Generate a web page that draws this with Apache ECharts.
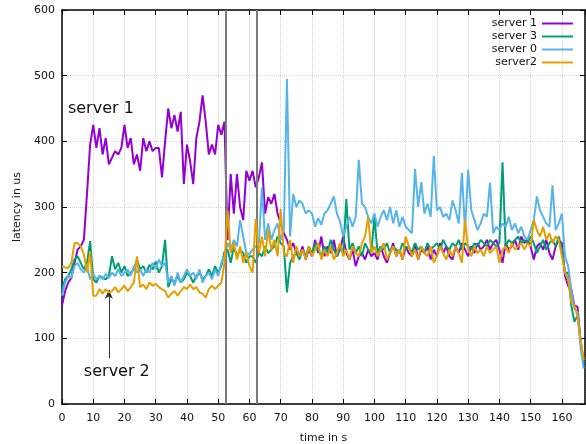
<!DOCTYPE html>
<html>
<head>
<meta charset="utf-8">
<script src="https://cdn.jsdelivr.net/npm/echarts@6/dist/echarts.min.js"></script>
<style>
html, body { margin: 0; padding: 0; background: #fff; }
#chart { width: 586px; height: 444px; }
</style>
</head>
<body>
<div id="chart"></div>
<script>
// latency samples, one per second (t = 0 .. 167 s)
const server1 = [
  150, 172, 185, 192, 215, 235, 240, 250, 320, 395,
  425, 390, 420, 380, 405, 365, 375, 385, 380, 390,
  425, 390, 405, 365, 380, 355, 405, 385, 400, 385,
  390, 390, 345, 400, 450, 420, 440, 415, 445, 335,
  395, 370, 335, 405, 430, 470, 430, 380, 395, 380,
  425, 410, 430, 250, 350, 290, 350, 300, 280, 355,
  340, 355, 330, 345, 368, 290, 315, 305, 320, 290,
  275, 260, 250, 235, 245, 230, 225, 240, 220, 235,
  225, 250, 230, 255, 225, 240, 230, 250, 225, 235,
  255, 230, 220, 235, 210, 225, 230, 220, 235, 225,
  230, 220, 240, 225, 215, 230, 245, 225, 235, 220,
  240, 230, 225, 245, 220, 235, 230, 240, 220, 235,
  225, 245, 230, 240, 225, 220, 240, 230, 245, 235,
  225, 240, 230, 245, 235, 240, 250, 235, 245, 250,
  235, 215, 245, 235, 240, 250, 235, 255, 245, 250,
  240, 220, 240, 245, 235, 250, 230, 220, 240, 250,
  245, 195, 180, 175, 150, 148, 95, 60
];
const server3 = [
  175, 190, 195, 205, 220, 225, 215, 205, 215, 248,
  190, 185, 195, 192, 190, 195, 225, 205, 215, 200,
  210, 195, 200, 205, 220, 205, 210, 200, 212, 205,
  217, 200, 210, 250, 178, 190, 185, 195, 185, 190,
  200, 195, 185, 195, 200, 190, 195, 205, 195, 210,
  200, 210, 232, 235, 215, 240, 225, 235, 230, 215,
  225, 225, 215, 230, 225, 240, 230, 235, 240, 255,
  245, 240, 170, 215, 225, 230, 220, 235, 225, 240,
  230, 245, 235, 225, 240, 230, 250, 235, 225, 240,
  230, 312, 235, 245, 230, 240, 225, 245, 235, 230,
  285, 230, 240, 235, 245, 230, 240, 235, 230, 245,
  235, 240, 230, 245, 235, 240, 230, 245, 235, 240,
  245, 235, 250, 240, 235, 245, 240, 250, 235, 245,
  240, 235, 245, 240, 250, 245, 240, 250, 245, 240,
  245, 368, 240, 250, 245, 250, 255, 245, 250, 245,
  255, 245, 230, 240, 250, 235, 245, 250, 240, 255,
  235, 200, 200, 150, 125, 135, 95, 62
];
const server0 = [
  165, 185, 195, 192, 210, 215, 205, 200, 210, 190,
  198, 190, 195, 190, 198, 192, 200, 195, 205, 195,
  200, 205, 195, 210, 200, 205, 195, 205, 200, 215,
  205, 220, 210, 215, 185, 195, 180, 200, 185, 195,
  205, 195, 200, 190, 205, 185, 195, 200, 190, 205,
  195, 215, 225, 245, 235, 250, 240, 280, 255, 230,
  228, 235, 240, 245, 330, 250, 275, 250, 265, 275,
  250, 265, 495, 255, 320, 300, 310, 305, 290, 295,
  290, 270, 283, 273, 290, 295, 305, 316, 290, 278,
  255, 270, 285, 270, 285, 372, 305, 300, 285, 275,
  290, 270, 285, 295, 280, 300, 275, 295, 270, 285,
  270, 265, 260, 358, 300, 338, 290, 305, 285, 378,
  295, 300, 285, 290, 280, 310, 295, 275, 352, 265,
  357, 295, 280, 265, 275, 290, 285, 337, 260, 270,
  265, 275, 270, 285, 265, 275, 260, 270, 255, 250,
  265, 280, 316, 295, 285, 275, 270, 333, 265, 275,
  290, 225, 210, 175, 145, 140, 85, 54
];
const server2 = [
  210, 208, 207, 215, 245, 245, 240, 228, 200, 232,
  165, 165, 175, 168, 175, 170, 172, 178, 170, 175,
  180, 172, 178, 185, 225, 178, 182, 175, 185, 180,
  183, 178, 175, 172, 162, 168, 172, 165, 172, 178,
  175, 182, 175, 178, 170, 168, 162, 175, 180, 175,
  180, 185, 215, 295, 230, 245, 220, 240, 215, 230,
  210, 200, 282, 230, 255, 225, 265, 235, 250, 225,
  297, 230, 225, 250, 215, 240, 225, 235, 220, 240,
  225, 235, 245, 220, 235, 225, 240, 220, 230, 245,
  225, 235, 220, 240, 230, 225, 245, 255, 285, 230,
  240, 225, 235, 245, 220, 230, 240, 225, 235, 220,
  255, 240, 225, 235, 220, 240, 230, 225, 240, 215,
  225, 240, 230, 220, 235, 225, 240, 230, 215, 280,
  235, 225, 240, 230, 235, 225, 240, 230, 235, 240,
  215, 235, 240, 230, 245, 235, 240, 245, 235, 245,
  240, 280, 265, 255, 270, 250, 260, 245, 255, 250,
  225, 200, 190, 155, 150, 133, 98, 67
];
const times = server1.map((_, i) => i);

const seriesNames = ['server 1', 'server 3', 'server 0', ' server2'];
const seriesColors = ['#9400d3', '#009e73', '#56b4e9', '#e69f00'];
const seriesValues = [server1, server3, server0, server2];

// vertical markers and annotations (data coordinates)
const markerTimes = [52.5, 62.4];
const noteTexts = ['server 1', 'server 2'];
const noteCoords = [[1.9, 450], [7, 49]];
const arrowFrom = [15, 70];
const arrowTo = [15, 174];

const font = 'DejaVu Sans';
const textColor = '#111';
const gridColor = '#d4d4d4';

const chart = echarts.init(document.getElementById('chart'));

const series = seriesNames.map((name, k) => ({
    name: name,
    type: 'line',
    symbol: 'none',
    showSymbol: false,
    data: seriesValues[k].map((v, i) => [times[i], v]),
    lineStyle: { width: 2, color: seriesColors[k] },
    itemStyle: { color: seriesColors[k] },
    z: 2 + k
}));

series[0].markLine = {
    silent: true,
    symbol: ['none', 'none'],
    label: { show: false },
    lineStyle: { color: '#7a7a7a', width: 2, type: 'solid' },
    data: markerTimes.map(t => ({ xAxis: t }))
};
series[0].markPoint = {
    silent: true,
    symbol: 'circle',
    symbolSize: 0,
    label: {
        show: true,
        position: 'right',
        distance: 0,
        formatter: '{b}',
        fontSize: 16,
        fontFamily: font,
        color: textColor
    },
    data: noteTexts.map((t, i) => ({ name: t, coord: noteCoords[i] }))
};
series[1].markLine = {
    silent: true,
    symbol: ['none', 'arrow'],
    symbolSize: [6, 9],
    label: { show: false },
    lineStyle: { color: '#333', width: 1, type: 'solid' },
    data: [[{ coord: arrowFrom }, { coord: arrowTo }]]
};

const option = {
    animation: false,
    backgroundColor: '#fff',
    grid: { left: 62, right: 1, top: 10, bottom: 40, outerBoundsMode: 'none', containLabel: false },
    legend: {
        data: seriesNames,
        orient: 'vertical',
        align: 'right',
        right: 13,
        top: 18,
        padding: 0,
        itemGap: 2,
        itemWidth: 31,
        itemHeight: 2,
        icon: 'rect',
        selectedMode: false,
        textStyle: { fontSize: 11, fontFamily: font, color: textColor }
    },
    xAxis: [{
        type: 'value',
        min: 0,
        max: 167.4,
        interval: 10,
        name: 'time in s',
        nameLocation: 'middle',
        nameGap: 29,
        nameTextStyle: { fontSize: 11, fontFamily: font, color: textColor },
        axisLine: { onZero: false, lineStyle: { color: '#000', width: 1.5 } },
        axisTick: { inside: true, length: 5, lineStyle: { color: '#000' } },
        axisLabel: { showMaxLabel: false, margin: 9, fontSize: 11, fontFamily: font, color: textColor },
        splitLine: { show: true, lineStyle: { type: 'dotted', color: gridColor } }
    }, {
        type: 'value',
        position: 'top',
        min: 0,
        max: 167.4,
        interval: 10,
        axisLine: { onZero: false, lineStyle: { color: '#000', width: 1.5 } },
        axisTick: { inside: true, length: 5, lineStyle: { color: '#000' } },
        axisLabel: { show: false },
        splitLine: { show: false }
    }],
    yAxis: [{
        type: 'value',
        min: 0,
        max: 600,
        interval: 100,
        name: 'latency in us',
        nameLocation: 'middle',
        nameGap: 38,
        nameTextStyle: { fontSize: 11, fontFamily: font, color: textColor },
        axisLine: { show: true, onZero: false, lineStyle: { color: '#000', width: 1.5 } },
        axisTick: { show: true, inside: true, length: 5, lineStyle: { color: '#000' } },
        axisLabel: { margin: 7, fontSize: 11, fontFamily: font, color: textColor },
        splitLine: { show: true, lineStyle: { type: 'dotted', color: gridColor } }
    }, {
        type: 'value',
        position: 'right',
        min: 0,
        max: 600,
        interval: 100,
        axisLine: { show: true, onZero: false, lineStyle: { color: '#000', width: 1.5 } },
        axisTick: { show: true, inside: true, length: 5, lineStyle: { color: '#000' } },
        axisLabel: { show: false },
        splitLine: { show: false }
    }],
    series: series
};

chart.setOption(option);
</script>
</body>
</html>
